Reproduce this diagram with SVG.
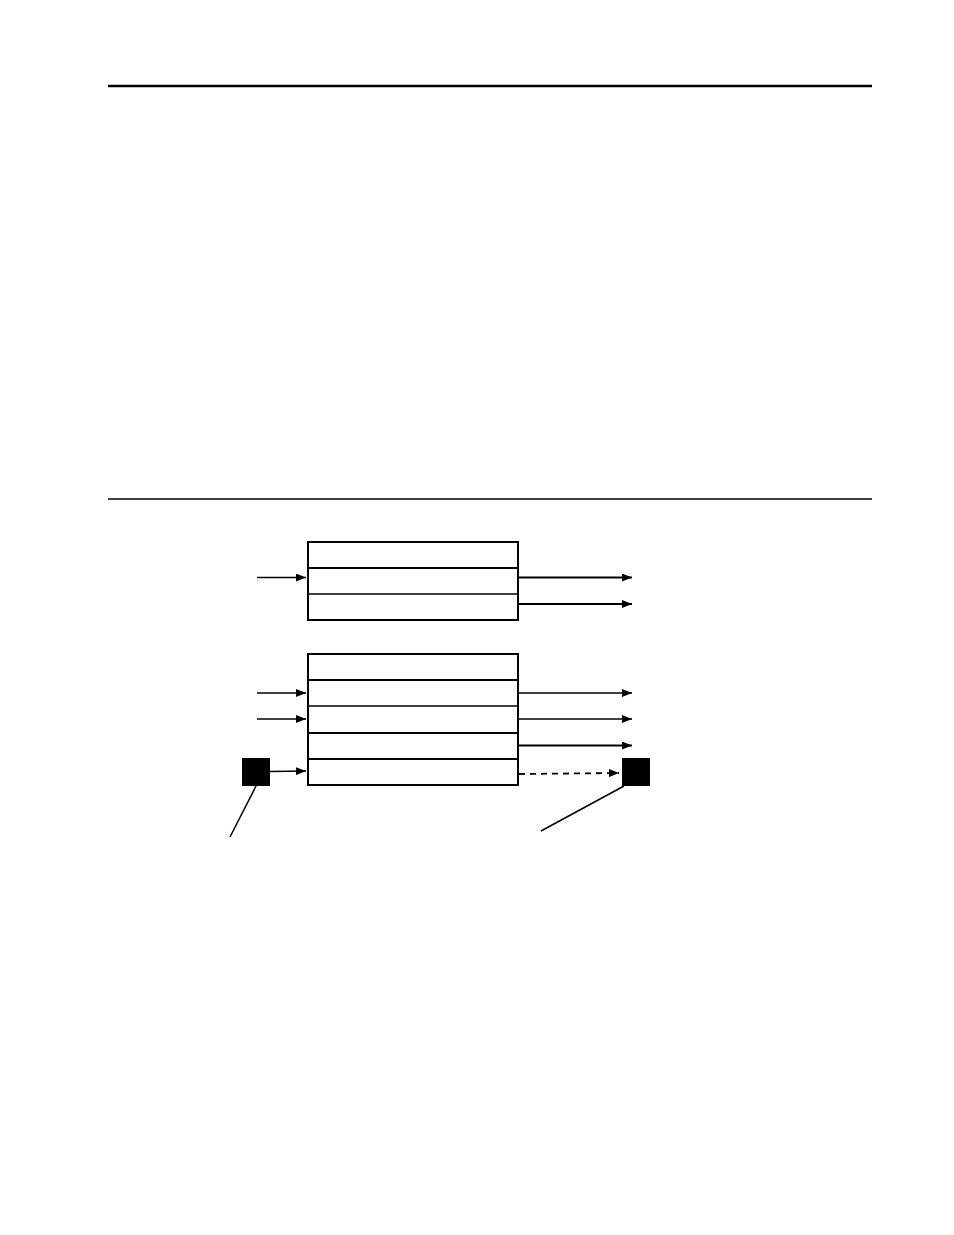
<svg xmlns="http://www.w3.org/2000/svg" width="954" height="1235" viewBox="0 0 954 1235">
<defs>
<marker id="ah" markerUnits="userSpaceOnUse" markerWidth="12" markerHeight="8" refX="10" refY="4" orient="auto">
<path d="M0,0 L10,4 L0,8 Z" fill="#000"/>
</marker>
<style>
.b{fill:none;stroke:#000;stroke-width:2}
.r{stroke:#000;stroke-width:1.5}
.rt{stroke:#000;stroke-width:2}
.a{stroke:#000;stroke-width:1.3;fill:none;marker-end:url(#ah)}
.at{stroke:#000;stroke-width:2.2;fill:none;marker-end:url(#ah)}
.d{stroke:#000;stroke-width:1.8;fill:none;stroke-dasharray:6,5;marker-end:url(#ah)}
.l{stroke:#000;stroke-width:1.5;fill:none}
</style>
</defs>
<rect width="954" height="1235" fill="#fff"/>
<line x1="108" y1="86" x2="872" y2="86" stroke="#000" stroke-width="2.5"/>
<line x1="108" y1="499" x2="872" y2="499" stroke="#000" stroke-width="1.3"/>
<g id="table1">
<rect class="b" x="308" y="542" width="210" height="78"/>
<line class="rt" x1="308" y1="568" x2="518" y2="568"/>
<line class="r" x1="308" y1="594" x2="518" y2="594"/>
</g>
<g id="table2">
<rect class="b" x="308" y="654" width="210" height="131"/>
<line class="rt" x1="308" y1="680" x2="518" y2="680"/>
<line class="r" x1="308" y1="706" x2="518" y2="706"/>
<line class="rt" x1="308" y1="733" x2="518" y2="733"/>
<line class="rt" x1="308" y1="759" x2="518" y2="759"/>
</g>
<g id="sqLeft"><rect x="242" y="758" width="28" height="28" fill="#000"/></g>
<g id="sqRight"><rect x="622" y="758" width="28" height="28" fill="#000"/></g>
<g id="connectors">
<line class="a" x1="257" y1="577.5" x2="306" y2="577.5"/>
<line class="at" x1="518" y1="577.5" x2="632" y2="577.5"/>
<line class="at" x1="518" y1="604" x2="632" y2="604"/>
<line class="a" x1="257" y1="693" x2="306" y2="693"/>
<line class="a" x1="257" y1="719" x2="306" y2="719"/>
<line class="a" x1="518" y1="693" x2="632" y2="693"/>
<line class="a" x1="518" y1="719" x2="632" y2="719"/>
<line class="at" x1="518" y1="745.5" x2="632" y2="745.5"/>
<line class="a" x1="270" y1="771.5" x2="306" y2="771"/>
<line class="d" x1="519" y1="774" x2="619" y2="773"/>
<line class="l" x1="256" y1="786" x2="230" y2="837"/>
<line class="l" x1="624" y1="786" x2="541" y2="831"/>
</g>
</svg>
